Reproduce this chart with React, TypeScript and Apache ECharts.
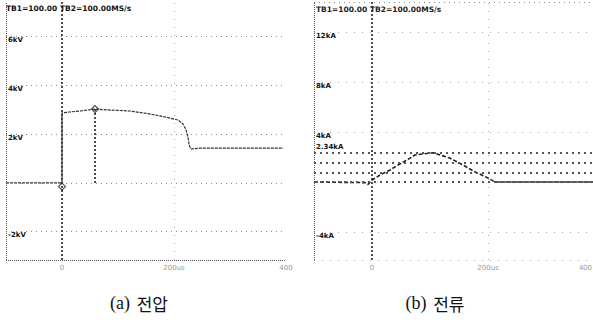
import React, { useEffect, useRef } from "react";
import * as echarts from "echarts";

// ---- data ----
const voltTime = [-100, 0, 0, 14, 32, 59, 86, 121, 157, 175, 193, 207, 216, 221, 225, 227, 230, 246, 395];
const voltKV = [0, 0, 2.87, 2.91, 2.95, 3.03, 2.99, 2.95, 2.83, 2.75, 2.66, 2.58, 2.42, 2.21, 1.89, 1.56, 1.39, 1.43, 1.43];
const currTime = [-100, -12, -7, 0, 14, 31, 48, 66, 74, 105, 134, 160, 178, 200, 212, 400];
const currKA = [0, -0.05, -0.2, 0.16, 0.56, 0.96, 1.44, 1.92, 2.16, 2.34, 1.92, 1.28, 0.8, 0.32, 0, 0];
const voltGridValues = [6, 4, 2, 0, -2];
const voltTickValues = [6, 4, 2, -2];
const currGridValues = [12, 8, 4, -4];
const currTickValues = [12, 8, 4, -4];
const currRows = [2.34, 1.56, 0.78, 0];
const voltTimeTicks = [0, 200, 400];
const currTimeTicks = [0, 200];
const voltTimeLabels = ["0", "200us", "400"];
const currTimeLabels = ["0", "200us"];
const currEdgeLabel = "400";
const cursorTime = 59;
const cursorPeak = 3.03;
const peakLabel = "2.34kA";
const header = "TB1=100.00 TB2=100.00MS/s";
const captionTags = ["(a)", "(b)"];
const captionWords = ["전압", "전류"];

const dotted = { color: "#8a8a8a", width: 1, type: [1, 4] as any };
const sparse = { color: "#aaaaaa", width: 1, type: [1, 7] as any };
const border = { color: "#555", width: 1, type: [1, 1] as any };
const zeroLine = { color: "#222", width: 1.6, type: [2, 2] as any };

function xAxisFor(idx: number, ticks: number[], labels: string[]) {
  return {
    type: "value",
    gridIndex: idx,
    min: -100,
    max: 400,
    axisLine: { show: false },
    axisTick: { show: false },
    splitLine: { show: false },
    axisLabel: {
      customValues: ticks,
      formatter: (v: number) => labels[ticks.indexOf(v)] ?? "",
      color: "#9a9a9a",
      fontSize: 7,
      fontFamily: "DejaVu Sans",
      margin: 4,
    },
  };
}

function caption(i: number, x: number) {
  return {
    type: "text",
    x,
    y: 303,
    style: {
      text: `{s|${captionTags[i]}}  {k|${captionWords[i]}}`,
      align: "center",
      verticalAlign: "middle",
      fill: "#111",
      rich: {
        s: { fontFamily: "Times New Roman, Liberation Serif, DejaVu Serif, serif", fontSize: 18, fill: "#111" },
        k: { fontFamily: "Noto Sans CJK KR", fontSize: 17, fill: "#111" },
      },
    },
  };
}

export default function App() {
  const ref = useRef<HTMLDivElement>(null);
  useEffect(() => {
    if (!ref.current) return;
    const chart = echarts.init(ref.current, undefined, { renderer: "svg" });
    const textFont = "DejaVu Sans";
    chart.setOption({
      animation: false,
      backgroundColor: "#ffffff",
      grid: [
        { left: 6, top: 2, width: 280, height: 258, outerBoundsMode: "none", containLabel: false },
        { left: 314, top: 2, width: 290, height: 258, outerBoundsMode: "none", containLabel: false },
      ],
      xAxis: [xAxisFor(0, voltTimeTicks, voltTimeLabels), xAxisFor(1, currTimeTicks, currTimeLabels)],
      yAxis: [
        {
          type: "value",
          gridIndex: 0,
          min: -3.16,
          max: 7.42,
          axisLine: { show: false },
          axisTick: { show: false },
          splitLine: { show: false },
          axisLabel: {
            inside: true,
            customValues: voltTickValues,
            formatter: (v: number) => `${v}kV`,
            verticalAlign: "top",
            color: "#111",
            fontSize: 7,
            fontWeight: "bold",
            fontFamily: textFont,
            margin: 2,
          },
        },
        {
          type: "value",
          gridIndex: 1,
          min: -6.24,
          max: 14.4,
          axisLine: { show: false },
          axisTick: { show: false },
          splitLine: { show: false },
          axisLabel: {
            inside: true,
            customValues: currTickValues,
            formatter: (v: number) => `${v}kA`,
            verticalAlign: "top",
            color: "#111",
            fontSize: 7,
            fontWeight: "bold",
            fontFamily: textFont,
            margin: 2,
          },
        },
      ],
      series: [
        {
          name: "voltage",
          type: "line",
          xAxisIndex: 0,
          yAxisIndex: 0,
          data: voltTime.map((t, i) => [t, voltKV[i]]),
          showSymbol: false,
          lineStyle: { color: "#333", width: 1.2, type: [3, 1] },
          markLine: {
            silent: true,
            symbol: "none",
            label: { show: false },
            data: [
              ...voltGridValues.map((v) => ({ yAxis: v, lineStyle: dotted })),
              { yAxis: -3.16, lineStyle: border },
              { xAxis: -100, lineStyle: border },
              { xAxis: 200, lineStyle: sparse },
              { xAxis: 0, lineStyle: zeroLine },
            ],
          },
        },
        {
          name: "cursor",
          type: "line",
          xAxisIndex: 0,
          yAxisIndex: 0,
          data: [
            [cursorTime, 0],
            [cursorTime, cursorPeak],
          ],
          showSymbol: false,
          lineStyle: { color: "#222", width: 1.6, type: [2, 2] },
        },
        {
          name: "markers",
          type: "scatter",
          xAxisIndex: 0,
          yAxisIndex: 0,
          data: [[0, -0.15], [cursorTime, cursorPeak]],
          symbol: "diamond",
          symbolSize: 7,
          itemStyle: { color: "#fff", borderColor: "#222", borderWidth: 1.2 },
        },
        {
          name: "current",
          type: "line",
          xAxisIndex: 1,
          yAxisIndex: 1,
          data: currTime.map((t, i) => [t, currKA[i]]),
          showSymbol: false,
          lineStyle: { color: "#222", width: 1.6, type: [4, 2] },
          markLine: {
            silent: true,
            symbol: "none",
            label: { show: false },
            data: [
              ...currGridValues.map((v) => ({ yAxis: v, lineStyle: sparse })),
              ...currRows.map((v, i) => ({
                yAxis: v,
                lineStyle: { color: "#555", width: 2, type: [2, 4] },
                label:
                  i === 0
                    ? {
                        show: true,
                        position: "insideStartTop",
                        formatter: peakLabel,
                        color: "#111",
                        fontSize: 7,
                        fontWeight: "bold",
                        fontFamily: textFont,
                        distance: [2, 2],
                      }
                    : { show: false },
              })),
              { yAxis: 14.4, lineStyle: dotted },
              { yAxis: -6.24, lineStyle: sparse },
              { xAxis: -100, lineStyle: border },
              { xAxis: 200, lineStyle: sparse },
              { xAxis: 0, lineStyle: zeroLine },
            ],
          },
        },
      ],
      graphic: [
        {
          type: "text",
          left: 6,
          top: 4,
          style: { text: header, fontSize: 7.5, fontWeight: "bold", fontFamily: textFont, fill: "#111" },
        },
        {
          type: "text",
          left: 316,
          top: 5,
          style: { text: header, fontSize: 7.5, fontWeight: "bold", fontFamily: textFont, fill: "#222" },
        },
        {
          type: "text",
          right: 1,
          top: 264,
          style: { text: currEdgeLabel, fontSize: 7, fontFamily: textFont, fill: "#9a9a9a" },
        },
        caption(0, 139),
        caption(1, 435),
      ],
    });
    return () => chart.dispose();
  }, []);
  return (
    <div
      ref={ref}
      style={{ position: "absolute", left: 0, top: 0, width: 593, height: 324, background: "#fff" }}
    />
  );
}
